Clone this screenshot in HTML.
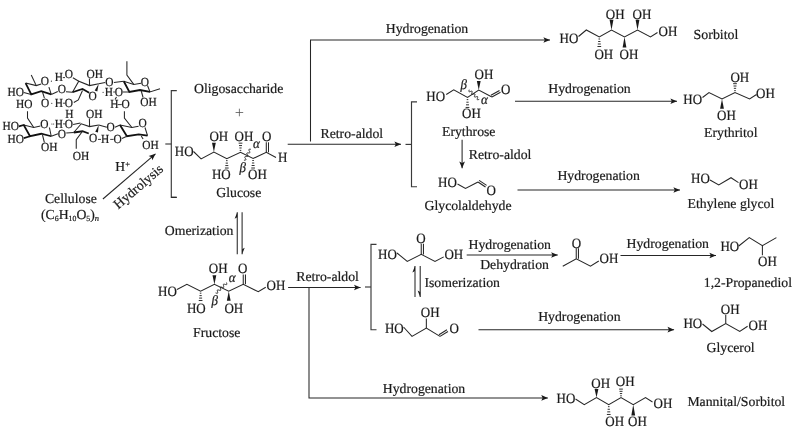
<!DOCTYPE html>
<html><head><meta charset="utf-8"><style>
html,body{margin:0;padding:0;background:#fff;width:800px;height:434px;overflow:hidden}
svg{display:block;will-change:transform}
text{font-family:"Liberation Serif",serif;fill:#1a1a1a;stroke:#1a1a1a;stroke-width:0.2px;text-rendering:geometricPrecision}
</style></head><body>
<svg width="800" height="434" viewBox="0 0 800 434">
<polyline points="310.50,141.50 310.50,40.00 550.00,40.00" fill="none" stroke="#262626" stroke-width="1.05" stroke-linejoin="miter"/>
<polygon points="550.00,40.00 543.40,42.85 544.80,40.00 543.40,37.15" fill="#1a1a1a"/>
<text x="385.75" y="32.50" font-size="13.75">Hydrogenation</text>
<polyline points="287.70,144.25 401.00,144.25" fill="none" stroke="#262626" stroke-width="1.05" stroke-linejoin="miter"/>
<polygon points="401.00,144.25 394.40,147.10 395.80,144.25 394.40,141.40" fill="#1a1a1a"/>
<text x="320.50" y="138.00" font-size="13.75">Retro-aldol</text>
<text x="0" y="0" transform="translate(559.50,42.60) scale(1,1.08)" font-size="13.0">HO</text>
<polyline points="578.50,36.50 586.30,30.00 599.30,37.00 611.50,30.00 624.50,37.00 637.50,30.00 650.50,37.00 657.50,32.50" fill="none" stroke="#262626" stroke-width="1.05" stroke-linejoin="miter"/>
<line x1="600.09" y1="39.00" x2="598.51" y2="39.00" stroke="#222" stroke-width="0.95"/>
<line x1="600.44" y1="41.50" x2="598.16" y2="41.50" stroke="#222" stroke-width="0.95"/>
<line x1="600.80" y1="44.00" x2="597.80" y2="44.00" stroke="#222" stroke-width="0.95"/>
<line x1="601.16" y1="46.50" x2="597.44" y2="46.50" stroke="#222" stroke-width="0.95"/>
<polygon points="611.50,30.00 613.40,19.80 609.60,19.80" fill="#1a1a1a"/>
<polygon points="624.50,37.00 622.60,47.50 626.40,47.50" fill="#1a1a1a"/>
<polygon points="637.50,30.00 639.40,19.80 635.60,19.80" fill="#1a1a1a"/>
<text x="0" y="0" transform="translate(605.80,19.20) scale(1,1.08)" font-size="13.0">OH</text>
<text x="0" y="0" transform="translate(632.60,19.20) scale(1,1.08)" font-size="13.0">OH</text>
<text x="0" y="0" transform="translate(594.40,58.80) scale(1,1.08)" font-size="13.0">OH</text>
<text x="0" y="0" transform="translate(619.60,58.80) scale(1,1.08)" font-size="13.0">OH</text>
<text x="0" y="0" transform="translate(658.60,36.00) scale(1,1.08)" font-size="13.0">OH</text>
<text x="693.60" y="38.90" font-size="13.9">Sorbitol</text>
<polyline points="176.80,90.60 171.30,90.60 171.30,197.50 176.80,197.50" fill="none" stroke="#3a3a3a" stroke-width="1.15" stroke-linejoin="miter"/>
<line x1="165.30" y1="144.00" x2="171.30" y2="144.00" stroke="#3a3a3a" stroke-width="1.15"/>
<text x="194.00" y="92.50" font-size="13.75">Oligosaccharide</text>
<line x1="235.60" y1="112.50" x2="243.20" y2="112.50" stroke="#555" stroke-width="0.8"/>
<line x1="239.40" y1="108.70" x2="239.40" y2="116.30" stroke="#555" stroke-width="0.8"/>
<text x="0" y="0" transform="translate(174.80,156.20) scale(1,1.08)" font-size="13.0">HO</text>
<polyline points="193.50,151.50 201.10,158.90 213.90,152.00 226.80,158.70 240.50,152.30 253.10,158.50 266.30,152.30 276.00,157.50" fill="none" stroke="#262626" stroke-width="1.05" stroke-linejoin="miter"/>
<polygon points="213.90,152.00 215.80,142.80 212.00,142.80" fill="#1a1a1a"/>
<text x="0" y="0" transform="translate(209.40,141.20) scale(1,1.08)" font-size="13.0">OH</text>
<line x1="239.71" y1="150.38" x2="241.29" y2="150.38" stroke="#222" stroke-width="0.95"/>
<line x1="239.36" y1="147.97" x2="241.64" y2="147.97" stroke="#222" stroke-width="0.95"/>
<line x1="239.00" y1="145.57" x2="242.00" y2="145.57" stroke="#222" stroke-width="0.95"/>
<line x1="238.64" y1="143.16" x2="242.36" y2="143.16" stroke="#222" stroke-width="0.95"/>
<text x="0" y="0" transform="translate(234.50,140.60) scale(1,1.08)" font-size="13.0">OH</text>
<line x1="227.59" y1="160.66" x2="226.01" y2="160.66" stroke="#222" stroke-width="0.95"/>
<line x1="227.94" y1="163.11" x2="225.66" y2="163.11" stroke="#222" stroke-width="0.95"/>
<line x1="228.30" y1="165.57" x2="225.30" y2="165.57" stroke="#222" stroke-width="0.95"/>
<line x1="228.66" y1="168.02" x2="224.94" y2="168.02" stroke="#222" stroke-width="0.95"/>
<text x="0" y="0" transform="translate(211.90,178.75) scale(1,1.08)" font-size="13.0">HO</text>
<line x1="253.89" y1="160.50" x2="252.31" y2="160.50" stroke="#222" stroke-width="0.95"/>
<line x1="254.24" y1="163.00" x2="251.96" y2="163.00" stroke="#222" stroke-width="0.95"/>
<line x1="254.60" y1="165.50" x2="251.60" y2="165.50" stroke="#222" stroke-width="0.95"/>
<line x1="254.96" y1="168.00" x2="251.24" y2="168.00" stroke="#222" stroke-width="0.95"/>
<text x="0" y="0" transform="translate(248.10,179.40) scale(1,1.08)" font-size="13.0">OH</text>
<line x1="266.30" y1="152.30" x2="266.30" y2="142.30" stroke="#262626" stroke-width="1.05"/>
<line x1="268.50" y1="152.30" x2="268.50" y2="142.30" stroke="#262626" stroke-width="1.05"/>
<text x="0" y="0" transform="translate(262.10,141.20) scale(1,1.08)" font-size="13.0">O</text>
<text x="0" y="0" transform="translate(278.00,162.30) scale(1,1.08)" font-size="13.0">H</text>
<text x="0" y="0" transform="translate(253.00,147.50) scale(1,1.08)" font-size="13" font-style="italic">α</text>
<text x="0" y="0" transform="translate(239.60,172.00) scale(1,1.08)" font-size="13" font-style="italic">β</text>
<path d="M244.32,160.17 L244.75,160.16 L245.14,160.14 L245.47,160.09 L245.72,159.99 L245.87,159.84 L245.92,159.63 L245.88,159.36 L245.74,159.05 L245.55,158.71 L245.33,158.34 L245.11,157.98 L244.92,157.64 L244.78,157.33 L244.74,157.06 L244.79,156.85 L244.94,156.70 L245.19,156.60 L245.52,156.54 L245.91,156.52 L246.34,156.52 L246.77,156.52 L247.16,156.50 L247.49,156.45 L247.74,156.35 L247.89,156.19 L247.94,155.98 L247.90,155.72 L247.76,155.41 L247.57,155.06 L247.35,154.70 L247.13,154.34 L246.94,153.99 L246.80,153.68 L246.76,153.42 L246.81,153.21 L246.96,153.05 L247.21,152.95 L247.54,152.90 L247.93,152.88 L248.36,152.88 L248.79,152.88 L249.18,152.86 L249.51,152.80 L249.76,152.70 L249.91,152.55 L249.96,152.34 L249.92,152.07 L249.78,151.76 L249.59,151.42 L249.37,151.06 L249.15,150.69 L248.96,150.35 L248.82,150.04 L248.78,149.77 L248.83,149.56 L248.98,149.41 L249.23,149.31 L249.56,149.26 L249.95,149.24 L250.38,149.23" fill="none" stroke="#222" stroke-width="1.0" stroke-linejoin="round" stroke-linecap="round"/>
<text x="216.25" y="196.90" font-size="13.75">Glucose</text>
<polyline points="417.00,101.90 411.50,101.90 411.50,186.75 417.00,186.75" fill="none" stroke="#3a3a3a" stroke-width="1.15" stroke-linejoin="miter"/>
<line x1="405.50" y1="144.40" x2="411.50" y2="144.40" stroke="#3a3a3a" stroke-width="1.15"/>
<text x="0" y="0" transform="translate(426.25,101.25) scale(1,1.08)" font-size="13.0">HO</text>
<polyline points="446.25,94.50 453.75,89.75 467.50,97.50 478.75,90.00 491.90,97.00" fill="none" stroke="#262626" stroke-width="1.05" stroke-linejoin="miter"/>
<line x1="491.90" y1="97.00" x2="500.50" y2="92.20" stroke="#262626" stroke-width="1.05"/>
<line x1="490.93" y1="95.25" x2="499.53" y2="90.45" stroke="#262626" stroke-width="1.05"/>
<text x="0" y="0" transform="translate(501.00,94.20) scale(1,1.08)" font-size="13.0">O</text>
<polygon points="478.75,90.00 480.65,81.00 476.85,81.00" fill="#1a1a1a"/>
<text x="0" y="0" transform="translate(474.60,79.40) scale(1,1.08)" font-size="13.0">OH</text>
<line x1="468.29" y1="99.60" x2="466.71" y2="99.60" stroke="#222" stroke-width="0.95"/>
<line x1="468.64" y1="102.21" x2="466.36" y2="102.21" stroke="#222" stroke-width="0.95"/>
<line x1="469.00" y1="104.83" x2="466.00" y2="104.83" stroke="#222" stroke-width="0.95"/>
<line x1="469.36" y1="107.45" x2="465.64" y2="107.45" stroke="#222" stroke-width="0.95"/>
<text x="0" y="0" transform="translate(462.00,118.10) scale(1,1.08)" font-size="13.0">OH</text>
<text x="0" y="0" transform="translate(460.60,89.00) scale(1,1.08)" font-size="13" font-style="italic">β</text>
<text x="0" y="0" transform="translate(481.00,104.00) scale(1,1.08)" font-size="13" font-style="italic">α</text>
<path d="M469.14,90.11 L469.01,90.58 L468.91,91.00 L468.89,91.35 L468.96,91.59 L469.15,91.73 L469.44,91.75 L469.82,91.68 L470.27,91.54 L470.73,91.38 L471.18,91.24 L471.57,91.16 L471.88,91.17 L472.08,91.28 L472.17,91.51 L472.16,91.85 L472.07,92.26 L471.94,92.72 L471.80,93.19 L471.70,93.62 L471.66,93.98 L471.72,94.25 L471.89,94.39 L472.17,94.43 L472.54,94.37 L472.97,94.24 L473.44,94.08 L473.89,93.94 L474.30,93.85 L474.62,93.84 L474.83,93.94 L474.94,94.15 L474.94,94.47 L474.86,94.88 L474.73,95.33 L474.59,95.80 L474.48,96.25 L474.43,96.62 L474.48,96.89 L474.63,97.06 L474.90,97.11 L475.26,97.06 L475.68,96.94 L476.15,96.79 L476.60,96.64 L477.02,96.53 L477.35,96.51 L477.58,96.60 L477.71,96.79 L477.72,97.10 L477.65,97.49 L477.53,97.95 L477.39,98.42 L477.27,98.86 L477.21,99.25 L477.24,99.54 L477.38,99.72 L477.63,99.79 L477.97,99.75 L478.39,99.64 L478.86,99.49" fill="none" stroke="#222" stroke-width="1.0" stroke-linejoin="round" stroke-linecap="round"/>
<text x="442.00" y="136.00" font-size="13.75">Erythrose</text>
<polyline points="462.10,139.75 462.10,168.20" fill="none" stroke="#262626" stroke-width="1.05" stroke-linejoin="miter"/>
<polygon points="462.10,168.20 459.25,161.60 462.10,163.00 464.95,161.60" fill="#1a1a1a"/>
<text x="468.75" y="158.75" font-size="13.75">Retro-aldol</text>
<text x="0" y="0" transform="translate(438.00,186.80) scale(1,1.08)" font-size="13.0">HO</text>
<polyline points="457.50,184.00 465.50,188.50 478.00,182.00" fill="none" stroke="#262626" stroke-width="1.05" stroke-linejoin="miter"/>
<line x1="478.00" y1="182.00" x2="485.50" y2="187.00" stroke="#262626" stroke-width="1.05"/>
<line x1="479.11" y1="180.34" x2="486.61" y2="185.34" stroke="#262626" stroke-width="1.05"/>
<text x="0" y="0" transform="translate(486.50,194.50) scale(1,1.08)" font-size="13.0">O</text>
<text x="424.50" y="210.00" font-size="13.75">Glycolaldehyde</text>
<polyline points="515.00,101.25 677.00,101.25" fill="none" stroke="#262626" stroke-width="1.05" stroke-linejoin="miter"/>
<polygon points="677.00,101.25 670.40,104.10 671.80,101.25 670.40,98.40" fill="#1a1a1a"/>
<text x="548.25" y="92.50" font-size="13.75">Hydrogenation</text>
<text x="0" y="0" transform="translate(683.30,103.50) scale(1,1.08)" font-size="13.0">HO</text>
<polyline points="702.50,97.50 709.00,92.50 722.00,99.00 735.00,92.50 749.60,99.00 756.50,94.50" fill="none" stroke="#262626" stroke-width="1.05" stroke-linejoin="miter"/>
<polygon points="722.00,99.00 720.10,108.75 723.90,108.75" fill="#1a1a1a"/>
<text x="0" y="0" transform="translate(717.00,119.80) scale(1,1.08)" font-size="13.0">OH</text>
<line x1="734.21" y1="90.64" x2="735.79" y2="90.64" stroke="#222" stroke-width="0.95"/>
<line x1="733.86" y1="88.32" x2="736.14" y2="88.32" stroke="#222" stroke-width="0.95"/>
<line x1="733.50" y1="86.00" x2="736.50" y2="86.00" stroke="#222" stroke-width="0.95"/>
<line x1="733.14" y1="83.68" x2="736.86" y2="83.68" stroke="#222" stroke-width="0.95"/>
<text x="0" y="0" transform="translate(730.40,81.60) scale(1,1.08)" font-size="13.0">OH</text>
<text x="0" y="0" transform="translate(756.00,97.90) scale(1,1.08)" font-size="13.0">OH</text>
<text x="704.10" y="137.10" font-size="13.75">Erythritol</text>
<polyline points="517.50,190.00 680.00,190.00" fill="none" stroke="#262626" stroke-width="1.05" stroke-linejoin="miter"/>
<polygon points="680.00,190.00 673.40,192.85 674.80,190.00 673.40,187.15" fill="#1a1a1a"/>
<text x="557.40" y="180.00" font-size="13.75">Hydrogenation</text>
<text x="0" y="0" transform="translate(691.10,183.40) scale(1,1.08)" font-size="13.0">HO</text>
<polyline points="710.00,180.00 718.75,185.00 731.00,177.70 738.50,182.60" fill="none" stroke="#262626" stroke-width="1.05" stroke-linejoin="miter"/>
<text x="0" y="0" transform="translate(739.00,189.00) scale(1,1.08)" font-size="13.0">OH</text>
<text x="687.60" y="207.60" font-size="13.75">Ethylene glycol</text>
<text x="164.75" y="235.00" font-size="13.75">Omerization</text>
<line x1="237.25" y1="212.30" x2="237.25" y2="254.20" stroke="#262626" stroke-width="1.05"/>
<line x1="242.10" y1="212.30" x2="242.10" y2="254.20" stroke="#262626" stroke-width="1.05"/>
<polygon points="237.25,212.30 234.65,218.80 237.25,217.30" fill="#1a1a1a"/>
<polygon points="242.10,254.20 244.70,247.70 242.10,249.20" fill="#1a1a1a"/>
<text x="0" y="0" transform="translate(158.10,295.60) scale(1,1.08)" font-size="13.0">HO</text>
<polyline points="177.00,289.50 186.90,284.40 200.60,291.25 214.40,284.40 228.75,291.25 243.25,284.25 258.25,291.75 265.75,287.25" fill="none" stroke="#262626" stroke-width="1.05" stroke-linejoin="miter"/>
<polygon points="214.40,284.40 216.30,275.20 212.50,275.20" fill="#1a1a1a"/>
<text x="0" y="0" transform="translate(208.75,272.50) scale(1,1.08)" font-size="13.0">OH</text>
<line x1="201.39" y1="293.20" x2="199.81" y2="293.20" stroke="#222" stroke-width="0.95"/>
<line x1="201.74" y1="295.64" x2="199.46" y2="295.64" stroke="#222" stroke-width="0.95"/>
<line x1="202.10" y1="298.08" x2="199.10" y2="298.08" stroke="#222" stroke-width="0.95"/>
<line x1="202.46" y1="300.52" x2="198.74" y2="300.52" stroke="#222" stroke-width="0.95"/>
<text x="0" y="0" transform="translate(186.90,312.50) scale(1,1.08)" font-size="13.0">HO</text>
<polygon points="228.75,291.25 226.85,300.80 230.65,300.80" fill="#1a1a1a"/>
<text x="0" y="0" transform="translate(224.40,312.75) scale(1,1.08)" font-size="13.0">OH</text>
<line x1="243.25" y1="284.25" x2="243.25" y2="274.50" stroke="#262626" stroke-width="1.05"/>
<line x1="245.45" y1="284.25" x2="245.45" y2="274.50" stroke="#262626" stroke-width="1.05"/>
<text x="0" y="0" transform="translate(238.10,273.10) scale(1,1.08)" font-size="13.0">O</text>
<text x="0" y="0" transform="translate(266.50,289.50) scale(1,1.08)" font-size="13.0">OH</text>
<text x="0" y="0" transform="translate(228.75,281.90) scale(1,1.08)" font-size="13" font-style="italic">α</text>
<text x="0" y="0" transform="translate(211.50,304.50) scale(1,1.08)" font-size="13" font-style="italic">β</text>
<path d="M216.01,293.03 L216.49,293.18 L216.92,293.28 L217.28,293.31 L217.54,293.23 L217.69,293.03 L217.74,292.73 L217.70,292.33 L217.60,291.87 L217.47,291.39 L217.36,290.92 L217.31,290.51 L217.34,290.19 L217.48,289.98 L217.72,289.89 L218.07,289.90 L218.50,290.00 L218.97,290.14 L219.44,290.28 L219.88,290.39 L220.25,290.43 L220.53,290.37 L220.70,290.19 L220.76,289.90 L220.73,289.52 L220.63,289.06 L220.51,288.58 L220.40,288.11 L220.33,287.69 L220.35,287.36 L220.47,287.13 L220.70,287.02 L221.04,287.02 L221.45,287.10 L221.92,287.24 L222.40,287.39 L222.84,287.50 L223.23,287.55 L223.52,287.51 L223.70,287.35 L223.78,287.07 L223.76,286.70 L223.67,286.25 L223.55,285.77 L223.43,285.30 L223.36,284.87 L223.36,284.52 L223.47,284.28 L223.68,284.15 L224.00,284.14 L224.41,284.21 L224.87,284.34 L225.35,284.49 L225.80,284.61 L226.20,284.68 L226.50,284.64 L226.70,284.50 L226.80,284.24 L226.79,283.88 L226.71,283.45 L226.59,282.97" fill="none" stroke="#222" stroke-width="1.0" stroke-linejoin="round" stroke-linecap="round"/>
<text x="193.10" y="336.50" font-size="13.75">Fructose</text>
<polyline points="288.10,287.50 360.60,287.50" fill="none" stroke="#262626" stroke-width="1.05" stroke-linejoin="miter"/>
<polygon points="360.60,287.50 354.00,290.35 355.40,287.50 354.00,284.65" fill="#1a1a1a"/>
<text x="296.25" y="281.25" font-size="13.75">Retro-aldol</text>
<polyline points="309.00,287.50 309.00,397.90 547.85,397.90" fill="none" stroke="#262626" stroke-width="1.05" stroke-linejoin="miter"/>
<polygon points="547.85,397.90 541.25,400.75 542.65,397.90 541.25,395.05" fill="#1a1a1a"/>
<text x="382.75" y="392.70" font-size="13.75">Hydrogenation</text>
<polyline points="376.50,244.40 371.00,244.40 371.00,329.75 376.50,329.75" fill="none" stroke="#3a3a3a" stroke-width="1.15" stroke-linejoin="miter"/>
<line x1="365.00" y1="287.00" x2="371.00" y2="287.00" stroke="#3a3a3a" stroke-width="1.15"/>
<text x="0" y="0" transform="translate(378.10,259.40) scale(1,1.08)" font-size="13.0">HO</text>
<polyline points="397.00,253.00 407.25,261.50 421.25,254.40 435.00,261.50 443.75,256.90" fill="none" stroke="#262626" stroke-width="1.05" stroke-linejoin="miter"/>
<line x1="421.25" y1="254.40" x2="421.25" y2="243.75" stroke="#262626" stroke-width="1.05"/>
<line x1="423.45" y1="254.40" x2="423.45" y2="243.75" stroke="#262626" stroke-width="1.05"/>
<text x="0" y="0" transform="translate(416.25,242.50) scale(1,1.08)" font-size="13.0">O</text>
<text x="0" y="0" transform="translate(444.40,259.40) scale(1,1.08)" font-size="13.0">OH</text>
<polyline points="466.70,255.00 557.75,255.00" fill="none" stroke="#262626" stroke-width="1.05" stroke-linejoin="miter"/>
<polygon points="557.75,255.00 551.15,257.85 552.55,255.00 551.15,252.15" fill="#1a1a1a"/>
<text x="468.50" y="249.20" font-size="13.75">Hydrogenation</text>
<text x="480.20" y="269.20" font-size="13.75">Dehydration</text>
<line x1="415.00" y1="266.00" x2="415.00" y2="297.00" stroke="#262626" stroke-width="1.05"/>
<line x1="420.20" y1="266.00" x2="420.20" y2="297.00" stroke="#262626" stroke-width="1.05"/>
<polygon points="415.00,266.00 412.40,272.50 415.00,271.00" fill="#1a1a1a"/>
<polygon points="420.20,297.00 417.60,290.50 420.20,292.00" fill="#1a1a1a"/>
<text x="424.40" y="287.20" font-size="13.75">Isomerization</text>
<text x="0" y="0" transform="translate(384.90,332.90) scale(1,1.08)" font-size="13.0">HO</text>
<polyline points="403.50,327.00 412.00,336.40 426.35,328.00 440.00,336.40" fill="none" stroke="#262626" stroke-width="1.05" stroke-linejoin="miter"/>
<line x1="440.00" y1="336.40" x2="448.00" y2="331.50" stroke="#262626" stroke-width="1.05"/>
<line x1="438.96" y1="334.69" x2="446.96" y2="329.79" stroke="#262626" stroke-width="1.05"/>
<line x1="426.35" y1="328.00" x2="426.35" y2="318.40" stroke="#262626" stroke-width="1.05"/>
<text x="0" y="0" transform="translate(420.75,316.60) scale(1,1.08)" font-size="13.0">OH</text>
<text x="0" y="0" transform="translate(449.60,333.25) scale(1,1.08)" font-size="13.0">O</text>
<polyline points="478.50,329.70 674.10,329.70" fill="none" stroke="#262626" stroke-width="1.05" stroke-linejoin="miter"/>
<polygon points="674.10,329.70 667.50,332.55 668.90,329.70 667.50,326.85" fill="#1a1a1a"/>
<text x="538.15" y="320.90" font-size="13.75">Hydrogenation</text>
<polyline points="562.75,266.25 576.25,258.75 590.50,266.25 598.75,261.00" fill="none" stroke="#262626" stroke-width="1.05" stroke-linejoin="miter"/>
<line x1="576.25" y1="258.75" x2="576.25" y2="248.25" stroke="#262626" stroke-width="1.05"/>
<line x1="578.45" y1="258.75" x2="578.45" y2="248.25" stroke="#262626" stroke-width="1.05"/>
<text x="0" y="0" transform="translate(571.75,247.50) scale(1,1.08)" font-size="13.0">O</text>
<text x="0" y="0" transform="translate(599.50,263.25) scale(1,1.08)" font-size="13.0">OH</text>
<polyline points="620.50,255.50 716.00,255.50" fill="none" stroke="#262626" stroke-width="1.05" stroke-linejoin="miter"/>
<polygon points="716.00,255.50 709.40,258.35 710.80,255.50 709.40,252.65" fill="#1a1a1a"/>
<text x="626.50" y="248.40" font-size="13.75">Hydrogenation</text>
<text x="0" y="0" transform="translate(720.40,250.90) scale(1,1.08)" font-size="13.0">HO</text>
<polyline points="738.75,246.00 749.25,237.60 762.40,245.65 776.40,237.60" fill="none" stroke="#262626" stroke-width="1.05" stroke-linejoin="miter"/>
<line x1="762.40" y1="245.65" x2="762.40" y2="255.20" stroke="#262626" stroke-width="1.05"/>
<text x="0" y="0" transform="translate(758.00,266.10) scale(1,1.08)" font-size="13.0">OH</text>
<text x="703.75" y="287.10" font-size="13.75">1,2-Propanediol</text>
<text x="0" y="0" transform="translate(683.40,328.35) scale(1,1.08)" font-size="13.0">HO</text>
<polyline points="702.50,324.00 711.75,331.50 725.75,323.60 739.75,331.50 747.60,326.25" fill="none" stroke="#262626" stroke-width="1.05" stroke-linejoin="miter"/>
<line x1="725.75" y1="323.60" x2="725.75" y2="314.90" stroke="#262626" stroke-width="1.05"/>
<text x="0" y="0" transform="translate(720.85,313.65) scale(1,1.08)" font-size="13.0">OH</text>
<text x="0" y="0" transform="translate(748.50,330.10) scale(1,1.08)" font-size="13.0">OH</text>
<text x="706.50" y="352.15" font-size="13.75">Glycerol</text>
<text x="0" y="0" transform="translate(556.60,402.90) scale(1,1.08)" font-size="13.0">HO</text>
<polyline points="575.50,399.00 584.25,404.60 596.50,397.60 608.75,404.60 621.00,397.60 633.25,404.60 645.50,397.60 652.50,402.00" fill="none" stroke="#262626" stroke-width="1.05" stroke-linejoin="miter"/>
<polygon points="596.50,397.60 598.40,388.90 594.60,388.90" fill="#1a1a1a"/>
<text x="0" y="0" transform="translate(591.25,387.50) scale(1,1.08)" font-size="13.0">OH</text>
<line x1="609.54" y1="406.68" x2="607.96" y2="406.68" stroke="#222" stroke-width="0.95"/>
<line x1="609.89" y1="409.27" x2="607.61" y2="409.27" stroke="#222" stroke-width="0.95"/>
<line x1="610.25" y1="411.87" x2="607.25" y2="411.87" stroke="#222" stroke-width="0.95"/>
<line x1="610.61" y1="414.46" x2="606.89" y2="414.46" stroke="#222" stroke-width="0.95"/>
<text x="0" y="0" transform="translate(605.25,426.15) scale(1,1.08)" font-size="13.0">OH</text>
<line x1="620.21" y1="395.81" x2="621.79" y2="395.81" stroke="#222" stroke-width="0.95"/>
<line x1="619.86" y1="393.57" x2="622.14" y2="393.57" stroke="#222" stroke-width="0.95"/>
<line x1="619.50" y1="391.33" x2="622.50" y2="391.33" stroke="#222" stroke-width="0.95"/>
<line x1="619.14" y1="389.10" x2="622.86" y2="389.10" stroke="#222" stroke-width="0.95"/>
<text x="0" y="0" transform="translate(615.75,386.25) scale(1,1.08)" font-size="13.0">OH</text>
<polygon points="633.25,404.60 631.35,415.50 635.15,415.50" fill="#1a1a1a"/>
<text x="0" y="0" transform="translate(628.00,426.15) scale(1,1.08)" font-size="13.0">OH</text>
<text x="0" y="0" transform="translate(653.60,408.40) scale(1,1.08)" font-size="13.0">OH</text>
<text x="687.40" y="405.60" font-size="13.75">Mannital/Sorbitol</text>
<text x="44.90" y="203.30" font-size="13.75">Cellulose</text>
<text x="41.0" y="218.9" font-size="13.75">(C<tspan font-size="7.8" dy="1.8">6</tspan><tspan dy="-1.8">H</tspan><tspan font-size="7.8" dy="1.8">10</tspan><tspan dy="-1.8">O</tspan><tspan font-size="7.8" dy="1.8">5</tspan><tspan dy="-1.8">)</tspan><tspan font-size="8.5" dy="1.8" font-style="italic">n</tspan></text>
<text x="115.3" y="171.0" font-size="13.6">H<tspan font-size="8.5" dy="-4">+</tspan></text>
<polyline points="102.90,199.00 155.50,153.80" fill="none" stroke="#262626" stroke-width="1.05" stroke-linejoin="miter"/>
<polygon points="155.50,153.80 152.35,160.26 151.56,157.19 148.64,155.94" fill="#1a1a1a"/>
<text x="0" y="0" font-size="13.75" transform="translate(118.3,209.6) rotate(-40.7)">Hydrolysis</text>
<polyline points="176.70,197.20 171.20,197.20" fill="none" stroke="#262626" stroke-width="1.2" stroke-linejoin="miter"/>
<text x="0" y="0" transform="translate(7.45,95.60) scale(1,1.08)" font-size="11.4">HO</text>
<polyline points="31.25,75.00 36.25,85.60" fill="none" stroke="#262626" stroke-width="1.05" stroke-linejoin="miter"/>
<polyline points="25.60,83.10 36.25,85.60 41.20,84.00" fill="none" stroke="#262626" stroke-width="1.05" stroke-linejoin="miter"/>
<polyline points="25.60,83.10 31.25,94.40 41.25,91.25 51.25,94.40" fill="none" stroke="#111" stroke-width="1.8" stroke-linejoin="miter"/>
<polyline points="23.75,92.50 31.25,94.40" fill="none" stroke="#262626" stroke-width="1.05" stroke-linejoin="miter"/>
<polyline points="48.90,87.20 51.25,94.40" fill="none" stroke="#262626" stroke-width="1.05" stroke-linejoin="miter"/>
<polyline points="42.50,92.00 44.40,98.10" fill="none" stroke="#262626" stroke-width="1.05" stroke-linejoin="miter"/>
<text x="0" y="0" transform="translate(40.70,85.40) scale(1,1.08)" font-size="11.4">O</text>
<circle cx="51.4" cy="81.2" r="0.6" fill="#333"/>
<text x="0" y="0" transform="translate(54.70,81.40) scale(1,1.08)" font-size="11.4">H</text>
<line x1="62.80" y1="77.60" x2="65.00" y2="77.60" stroke="#262626" stroke-width="0.9"/>
<text x="0" y="0" transform="translate(64.80,77.60) scale(1,1.08)" font-size="11.4">O</text>
<polyline points="51.25,94.40 57.80,91.60" fill="none" stroke="#262626" stroke-width="1.05" stroke-linejoin="miter"/>
<text x="0" y="0" transform="translate(57.70,93.20) scale(1,1.08)" font-size="11.4">O</text>
<polyline points="66.00,91.80 72.50,92.25" fill="none" stroke="#262626" stroke-width="1.05" stroke-linejoin="miter"/>
<polyline points="72.50,92.25 78.75,81.25 89.60,85.60 98.75,83.75" fill="none" stroke="#262626" stroke-width="1.05" stroke-linejoin="miter"/>
<polyline points="72.90,77.80 78.75,81.25" fill="none" stroke="#262626" stroke-width="1.05" stroke-linejoin="miter"/>
<polyline points="89.60,85.60 89.40,78.50" fill="none" stroke="#262626" stroke-width="1.05" stroke-linejoin="miter"/>
<text x="0" y="0" transform="translate(86.60,77.50) scale(1,1.08)" font-size="11.4">OH</text>
<polyline points="72.50,92.25 82.50,89.00 89.20,92.80" fill="none" stroke="#111" stroke-width="1.8" stroke-linejoin="miter"/>
<polygon points="98.75,83.75 94.69,90.50 97.31,91.50" fill="#1a1a1a"/>
<text x="0" y="0" transform="translate(88.60,99.60) scale(1,1.08)" font-size="11.4">O</text>
<polyline points="82.50,90.50 78.30,100.00 73.80,102.50" fill="none" stroke="#262626" stroke-width="1.05" stroke-linejoin="miter"/>
<polyline points="98.75,83.75 105.20,82.60" fill="none" stroke="#262626" stroke-width="1.05" stroke-linejoin="miter"/>
<text x="0" y="0" transform="translate(105.30,85.60) scale(1,1.08)" font-size="11.4">O</text>
<polyline points="113.90,82.40 123.75,81.25" fill="none" stroke="#262626" stroke-width="1.05" stroke-linejoin="miter"/>
<text x="0" y="0" transform="translate(40.90,107.00) scale(1,1.08)" font-size="11.4">O</text>
<circle cx="51.8" cy="103.3" r="0.6" fill="#333"/>
<text x="0" y="0" transform="translate(54.70,107.00) scale(1,1.08)" font-size="11.4">H</text>
<line x1="62.90" y1="103.20" x2="65.00" y2="103.20" stroke="#262626" stroke-width="0.9"/>
<text x="0" y="0" transform="translate(64.70,107.00) scale(1,1.08)" font-size="11.4">O</text>
<circle cx="103.1" cy="92.3" r="0.6" fill="#333"/>
<text x="0" y="0" transform="translate(104.70,95.60) scale(1,1.08)" font-size="11.4">H</text>
<line x1="113.20" y1="92.00" x2="115.00" y2="92.00" stroke="#262626" stroke-width="0.9"/>
<text x="0" y="0" transform="translate(114.70,95.60) scale(1,1.08)" font-size="11.4">O</text>
<polyline points="126.90,61.25 126.90,75.00 133.75,84.40" fill="none" stroke="#262626" stroke-width="1.05" stroke-linejoin="miter"/>
<polyline points="123.75,81.25 133.75,84.40 141.00,83.30" fill="none" stroke="#262626" stroke-width="1.05" stroke-linejoin="miter"/>
<text x="0" y="0" transform="translate(140.70,85.60) scale(1,1.08)" font-size="11.4">O</text>
<polyline points="147.50,85.50 150.00,91.90 160.00,88.75" fill="none" stroke="#262626" stroke-width="1.05" stroke-linejoin="miter"/>
<polyline points="123.75,81.25 129.40,91.90 140.00,90.00 150.00,91.90" fill="none" stroke="#111" stroke-width="1.8" stroke-linejoin="miter"/>
<polyline points="122.60,92.00 129.40,91.90" fill="none" stroke="#262626" stroke-width="1.05" stroke-linejoin="miter"/>
<polyline points="141.25,91.00 143.10,97.50" fill="none" stroke="#262626" stroke-width="1.05" stroke-linejoin="miter"/>
<text x="0" y="0" transform="translate(140.30,106.25) scale(1,1.08)" font-size="11.4">OH</text>
<text x="0" y="0" transform="translate(110.30,108.30) scale(1,1.08)" font-size="11.4">H</text>
<line x1="117.60" y1="104.60" x2="121.80" y2="104.60" stroke="#262626" stroke-width="0.9"/>
<text x="0" y="0" transform="translate(121.60,108.30) scale(1,1.08)" font-size="11.4">O</text>
<polyline points="116.50,97.00 115.00,99.50" fill="none" stroke="#262626" stroke-width="1.05" stroke-linejoin="miter"/>
<text x="0" y="0" transform="translate(15.95,108.10) scale(1,1.08)" font-size="11.4">HO</text>
<text x="0" y="0" transform="translate(65.30,117.50) scale(1,1.08)" font-size="11.4">H</text>
<polyline points="27.50,111.25 27.50,118.10 33.75,127.50" fill="none" stroke="#262626" stroke-width="1.05" stroke-linejoin="miter"/>
<polyline points="23.75,125.00 33.75,127.50 40.40,126.00" fill="none" stroke="#262626" stroke-width="1.05" stroke-linejoin="miter"/>
<text x="0" y="0" transform="translate(40.30,127.70) scale(1,1.08)" font-size="11.4">O</text>
<polyline points="18.90,126.30 23.75,125.00 30.00,136.25 41.25,133.75 51.25,136.25" fill="none" stroke="#111" stroke-width="1.8" stroke-linejoin="miter"/>
<polyline points="23.90,138.10 30.00,136.25" fill="none" stroke="#111" stroke-width="1.8" stroke-linejoin="miter"/>
<text x="0" y="0" transform="translate(2.45,130.25) scale(1,1.08)" font-size="11.4">HO</text>
<text x="0" y="0" transform="translate(7.45,142.50) scale(1,1.08)" font-size="11.4">HO</text>
<polyline points="49.40,127.50 51.25,136.25" fill="none" stroke="#262626" stroke-width="1.05" stroke-linejoin="miter"/>
<polyline points="42.50,135.00 44.40,142.50" fill="none" stroke="#262626" stroke-width="1.05" stroke-linejoin="miter"/>
<text x="0" y="0" transform="translate(40.95,150.60) scale(1,1.08)" font-size="11.4">OH</text>
<circle cx="51.9" cy="124.0" r="0.6" fill="#333"/>
<circle cx="53.6" cy="124.0" r="0.6" fill="#333"/>
<text x="0" y="0" transform="translate(54.70,127.60) scale(1,1.08)" font-size="11.4">H</text>
<line x1="63.00" y1="123.90" x2="65.00" y2="123.90" stroke="#262626" stroke-width="0.9"/>
<text x="0" y="0" transform="translate(64.70,127.60) scale(1,1.08)" font-size="11.4">O</text>
<polyline points="51.25,136.25 58.00,133.80" fill="none" stroke="#262626" stroke-width="1.05" stroke-linejoin="miter"/>
<text x="0" y="0" transform="translate(57.80,138.10) scale(1,1.08)" font-size="11.4">O</text>
<polyline points="66.25,133.10 73.75,132.50" fill="none" stroke="#262626" stroke-width="1.05" stroke-linejoin="miter"/>
<polyline points="73.10,124.40 80.50,123.00" fill="none" stroke="#262626" stroke-width="1.05" stroke-linejoin="miter"/>
<polyline points="73.75,132.50 81.25,123.75 89.60,126.60 98.75,125.00" fill="none" stroke="#262626" stroke-width="1.05" stroke-linejoin="miter"/>
<polyline points="89.60,126.60 89.40,118.60" fill="none" stroke="#262626" stroke-width="1.05" stroke-linejoin="miter"/>
<text x="0" y="0" transform="translate(85.95,117.50) scale(1,1.08)" font-size="11.4">OH</text>
<polyline points="73.75,132.50 82.50,131.25 88.75,133.50" fill="none" stroke="#111" stroke-width="1.8" stroke-linejoin="miter"/>
<polygon points="98.75,125.00 95.26,131.80 97.94,132.60" fill="#1a1a1a"/>
<text x="0" y="0" transform="translate(88.90,142.00) scale(1,1.08)" font-size="11.4">O</text>
<polyline points="82.50,131.25 76.25,139.60 76.25,148.75" fill="none" stroke="#262626" stroke-width="1.05" stroke-linejoin="miter"/>
<text x="0" y="0" transform="translate(72.80,160.25) scale(1,1.08)" font-size="11.4">OH</text>
<polyline points="98.75,125.00 106.80,127.30" fill="none" stroke="#262626" stroke-width="1.05" stroke-linejoin="miter"/>
<text x="0" y="0" transform="translate(106.60,131.25) scale(1,1.08)" font-size="11.4">O</text>
<polyline points="115.00,127.30 120.00,125.00" fill="none" stroke="#262626" stroke-width="1.05" stroke-linejoin="miter"/>
<text x="0" y="0" transform="translate(100.95,143.10) scale(1,1.08)" font-size="11.4">H</text>
<line x1="98.00" y1="139.40" x2="101.00" y2="139.40" stroke="#262626" stroke-width="0.9"/>
<line x1="110.20" y1="139.40" x2="113.60" y2="139.40" stroke="#262626" stroke-width="0.9"/>
<text x="0" y="0" transform="translate(113.45,143.10) scale(1,1.08)" font-size="11.4">O</text>
<polyline points="124.40,111.25 124.40,118.10 131.90,127.50" fill="none" stroke="#262626" stroke-width="1.05" stroke-linejoin="miter"/>
<polyline points="120.00,125.00 131.90,127.50 138.60,126.20" fill="none" stroke="#262626" stroke-width="1.05" stroke-linejoin="miter"/>
<text x="0" y="0" transform="translate(138.45,126.90) scale(1,1.08)" font-size="11.4">O</text>
<polyline points="145.00,127.50 147.50,135.60" fill="none" stroke="#262626" stroke-width="1.05" stroke-linejoin="miter"/>
<polyline points="120.00,125.00 126.90,136.25 138.75,134.40 147.50,135.60" fill="none" stroke="#111" stroke-width="1.8" stroke-linejoin="miter"/>
<polyline points="122.00,138.50 126.90,136.25" fill="none" stroke="#262626" stroke-width="1.05" stroke-linejoin="miter"/>
<polyline points="141.25,136.00 143.10,139.00" fill="none" stroke="#262626" stroke-width="1.05" stroke-linejoin="miter"/>
<text x="0" y="0" transform="translate(142.20,149.00) scale(1,1.08)" font-size="11.4">OH</text>
</svg></body></html>
